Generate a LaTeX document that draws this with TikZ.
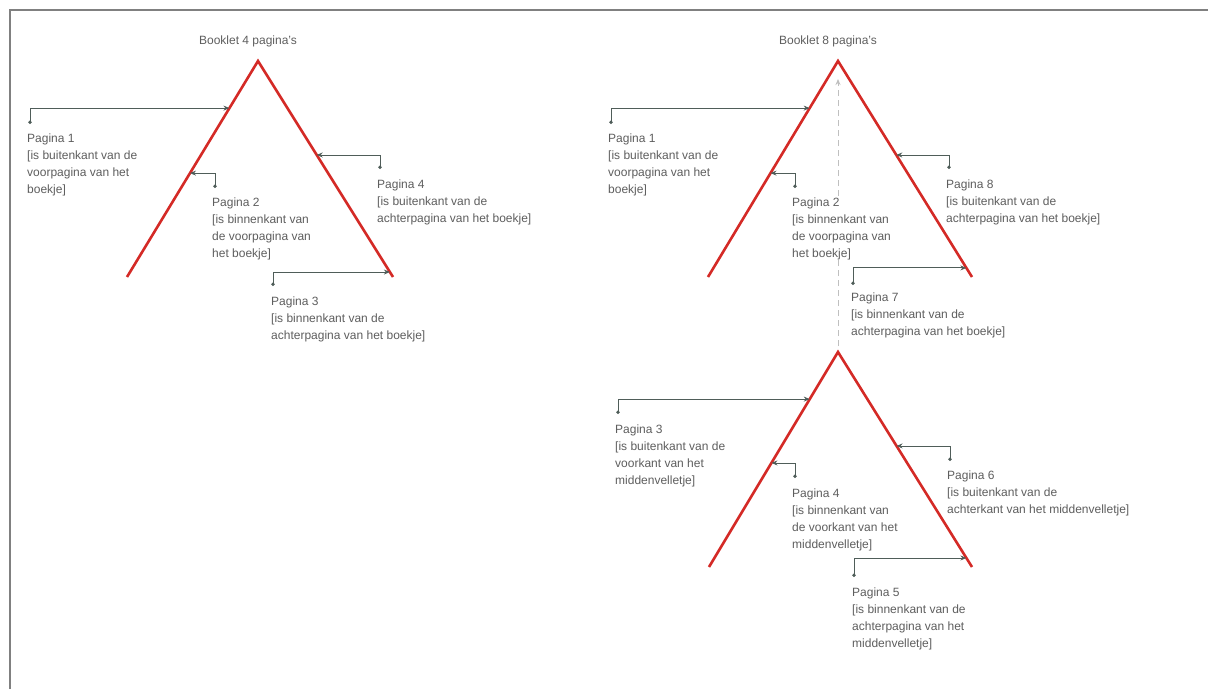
\documentclass[tikz,border=0pt]{standalone}
\usepackage{fontspec}
\setmainfont{Liberation Sans}
\usetikzlibrary{arrows.meta,calc}
\definecolor{legred}{HTML}{D42A26}
\definecolor{linegray}{HTML}{4F5D59}
\definecolor{textgray}{HTML}{5E5E5E}
\begin{document}
\begin{tikzpicture}[x=1pt,y=-1pt,
  leg/.style={legred,line width=2.6pt,line join=miter},
  conn/.style={linegray,line width=0.9pt,{Circle[length=3.5pt]}-{Stealth[length=6pt,width=5pt]}},
  pagetext/.style={anchor=north west,inner sep=0pt,align=left,fill=white,text=textgray,font=\fontsize{12}{16.7}\selectfont},
  booktitle/.style={inner sep=0pt,text=textgray,font=\fontsize{12}{14}\selectfont}]
\useasboundingbox (0,0) rectangle (1208,689);
\draw[gray,line width=2pt] (9.5,689) -- (9.5,9.5) -- (1208,9.5);

\coordinate (a1) at (258,61);
\coordinate (l1) at (127,277);
\coordinate (r1) at (393,277);
\coordinate (a2) at (838,61);
\coordinate (l2) at (708,277);
\coordinate (r2) at (972,277);
\coordinate (a3) at (838,352);
\coordinate (l3) at (709,567);
\coordinate (r3) at (972,567);

\node[booktitle] (b4) at (248,41) {Booklet 4 pagina's};
\node[booktitle] (b8) at (828,41) {Booklet 8 pagina's};

\draw[leg] (l1) -- (a1) -- (r1);
\draw[leg] (l2) -- (a2) -- (r2);
\draw[leg] (l3) -- (a3) -- (r3);
\draw[gray!50,line width=1pt,dash pattern=on 6pt off 4pt,-{Stealth[length=6pt,width=5pt]}] ([yshift=6pt]a3) -- ([yshift=-18pt]a2);

\node[pagetext] (p1a) at (27,134) {Pagina 1\\{[}is buitenkant van de\\voorpagina van het\\boekje]};
\node[pagetext] (p2a) at (212,198) {Pagina 2\\{[}is binnenkant van\\de voorpagina van\\het boekje]};
\node[pagetext] (p4a) at (377,180) {Pagina 4\\{[}is buitenkant van de\\achterpagina van het boekje]};
\node[pagetext] (p3a) at (271,297) {Pagina 3\\{[}is binnenkant van de\\achterpagina van het boekje]};

\node[pagetext] (p1b) at (608,134) {Pagina 1\\{[}is buitenkant van de\\voorpagina van het\\boekje]};
\node[pagetext] (p2b) at (792,198) {Pagina 2\\{[}is binnenkant van\\de voorpagina van\\het boekje]};
\node[pagetext] (p8b) at (946,180) {Pagina 8\\{[}is buitenkant van de\\achterpagina van het boekje]};
\node[pagetext] (p7b) at (851,293) {Pagina 7\\{[}is binnenkant van de\\achterpagina van het boekje]};

\node[pagetext] (p3c) at (615,425) {Pagina 3\\{[}is buitenkant van de\\voorkant van het\\middenvelletje]};
\node[pagetext] (p4c) at (792,489) {Pagina 4\\{[}is binnenkant van\\de voorkant van het\\middenvelletje]};
\node[pagetext] (p6c) at (947,471) {Pagina 6\\{[}is buitenkant van de\\achterkant van het middenvelletje]};
\node[pagetext] (p5c) at (852,588) {Pagina 5\\{[}is binnenkant van de\\achterpagina van het\\middenvelletje]};

\draw[conn] ([xshift=3pt,yshift=10pt]p1a.north west) |- ($(a1)!0.218!(l1)$);
\draw[conn] ([xshift=3pt,yshift=10pt]p2a.north west) |- ($(a1)!0.519!(l1)$);
\draw[conn] ([xshift=3pt,yshift=11pt]p4a.north west) |- ($(a1)!0.435!(r1)$);
\draw[conn] ([xshift=2pt,yshift=11pt]p3a.north west) |- ($(a1)!0.977!(r1)$);

\draw[conn] ([xshift=3pt,yshift=10pt]p1b.north west) |- ($(a2)!0.218!(l2)$);
\draw[conn] ([xshift=3pt,yshift=10pt]p2b.north west) |- ($(a2)!0.519!(l2)$);
\draw[conn] ([xshift=3pt,yshift=11pt]p8b.north west) |- ($(a2)!0.435!(r2)$);
\draw[conn] ([xshift=2pt,yshift=8pt]p7b.north west) |- ($(a2)!0.958!(r2)$);

\draw[conn] ([xshift=3pt,yshift=11pt]p3c.north west) |- ($(a3)!0.219!(l3)$);
\draw[conn] ([xshift=3pt,yshift=11pt]p4c.north west) |- ($(a3)!0.516!(l3)$);
\draw[conn] ([xshift=3pt,yshift=10pt]p6c.north west) |- ($(a3)!0.437!(r3)$);
\draw[conn] ([xshift=2pt,yshift=11pt]p5c.north west) |- ($(a3)!0.958!(r3)$);
\end{tikzpicture}
\end{document}
